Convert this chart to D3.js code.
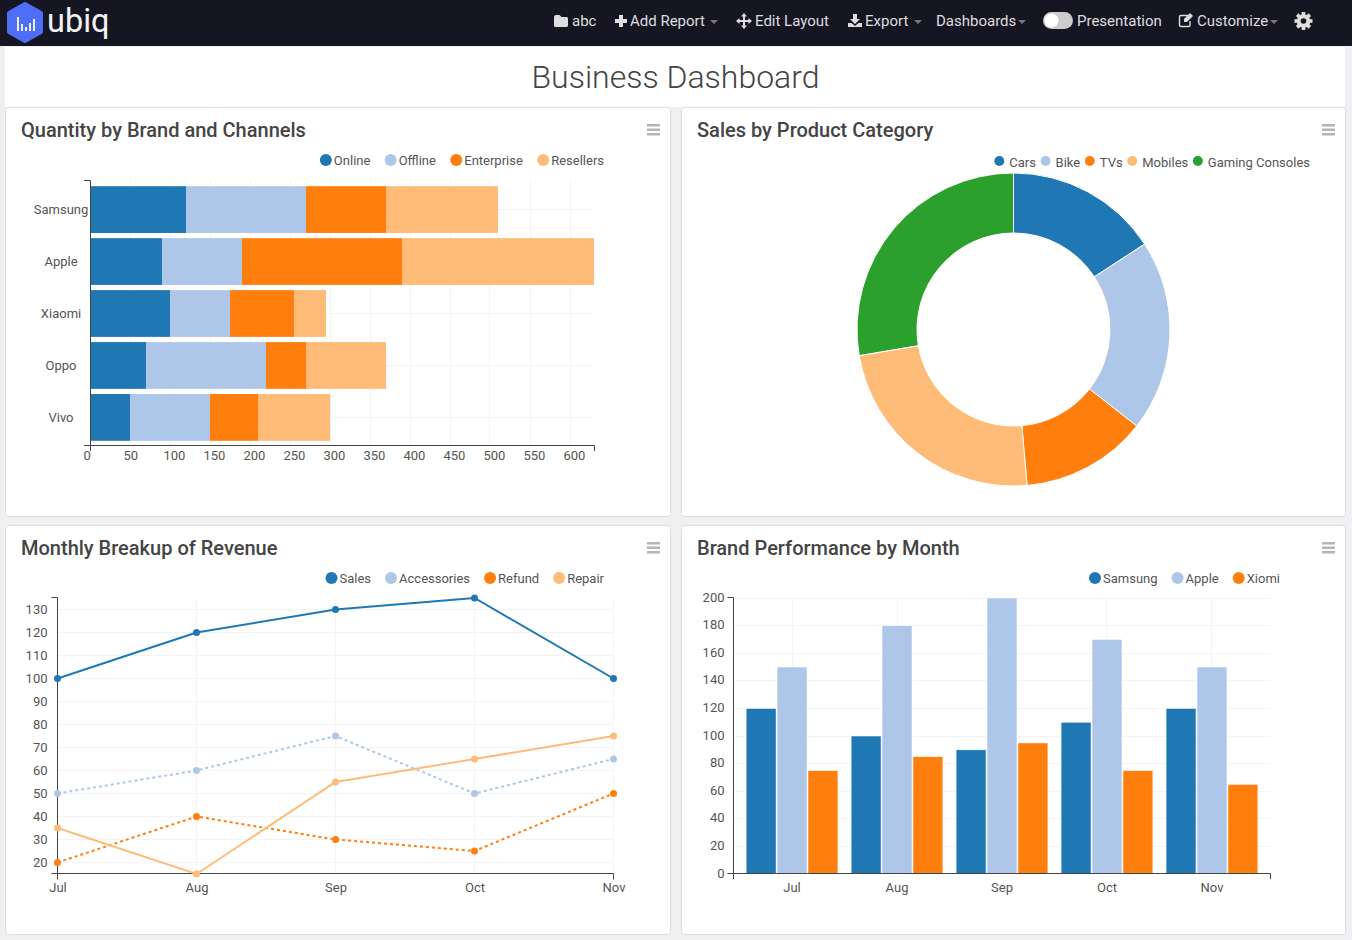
<!DOCTYPE html>
<html>
<head>
<meta charset="utf-8">
<script src="https://cdn.jsdelivr.net/npm/d3@7"></script>
<style>
  html, body { margin: 0; padding: 0; background: #f0f0f3; overflow: hidden; }
  svg { display: block; font-family: Roboto, sans-serif; }
  .axis path { stroke: #444; fill: none; }
  .axis line { display: none; }
  .axis text { font-family: Roboto, sans-serif; font-size: 13px; fill: #555; }
  .grid line { stroke: #f4f4f4; stroke-width: 1; }
  .nav-text { font-size: 15px; fill: #dedede; }
  .panel-title { font-size: 20px; font-weight: 500; fill: #444; }
  .legend text { font-size: 13px; fill: #555; }
</style>
</head>
<body>
<svg id="page" width="1352" height="940"></svg>
<script>
const colors = ['#1f77b4', '#aec7e8', '#ff7f0e', '#ffbb78', '#2ca02c']

// Quantity by Brand and Channels
const brands = ['Samsung', 'Apple', 'Xiaomi', 'Oppo', 'Vivo']
const channels = ['Online', 'Offline', 'Enterprise', 'Resellers']
const onlineQty = [120, 90, 100, 70, 50]
const offlineQty = [150, 100, 75, 150, 100]
const enterpriseQty = [100, 200, 80, 50, 60]
const resellerQty = [140, 240, 40, 100, 90]
const qtyTicks = [0, 50, 100, 150, 200, 250, 300, 350, 400, 450, 500, 550, 600]

// Sales by Product Category
const categories = ['Cars', 'Bike', 'TVs', 'Mobiles', 'Gaming Consoles']
const categorySales = [40, 50, 33, 60, 70]

// Monthly Breakup of Revenue
const months = ['Jul', 'Aug', 'Sep', 'Oct', 'Nov']
const revenueNames = ['Sales', 'Accessories', 'Refund', 'Repair']
const salesRev = [100, 120, 130, 135, 100]
const accessoriesRev = [50, 60, 75, 50, 65]
const refundRev = [20, 40, 30, 25, 50]
const repairRev = [35, 15, 55, 65, 75]
const revenueTicks = [20, 30, 40, 50, 60, 70, 80, 90, 100, 110, 120, 130]

// Brand Performance by Month
const perfBrands = ['Samsung', 'Apple', 'Xiomi']
const samsungPerf = [120, 100, 90, 110, 120]
const applePerf = [150, 180, 200, 170, 150]
const xiomiPerf = [75, 85, 95, 75, 65]
const perfTicks = [0, 20, 40, 60, 80, 100, 120, 140, 160, 180, 200]

const svg = d3.select('#page')

function drawPanel(x, y, w, h, title) {
  const g = svg.append('g')
  g.append('rect')
    .attr('x', x + 0.5).attr('y', y + 0.5)
    .attr('width', w).attr('height', h)
    .attr('rx', 3)
    .attr('fill', '#fff')
    .attr('stroke', '#dedede')
  g.append('text')
    .attr('class', 'panel-title')
    .attr('x', x + 16).attr('y', y + 30)
    .text(title)
  // menu icon
  ;[0, 4.5, 9].forEach(d => {
    g.append('rect')
      .attr('x', x + w - 23).attr('y', y + 17 + d)
      .attr('width', 13).attr('height', 2.5)
      .attr('fill', '#b5b5b5')
  })
}

// legend is laid out from the right edge, measuring each label
function drawLegend(names, right, y, opts) {
  const g = svg.append('g').attr('class', 'legend')
  let cursor = right
  for (let i = names.length - 1; i >= 0; i--) {
    const text = g.append('text')
      .attr('y', y + opts.textDy)
      .attr('dy', '0.35em')
      .text(names[i])
    const width = text.node().getComputedTextLength()
    text.attr('x', cursor - width)
    g.append('circle')
      .attr('cx', cursor - width - opts.dotGap)
      .attr('cy', y)
      .attr('r', opts.r)
      .attr('fill', colors[i])
    cursor -= width + opts.dotGap + opts.r + opts.gap
  }
}

function drawGrid(xValues, yValues, x0, x1, y0, y1) {
  const g = svg.append('g').attr('class', 'grid')
  g.selectAll('line.v').data(xValues).enter().append('line')
    .attr('class', 'v')
    .attr('x1', d => Math.floor(d) + 0.5).attr('x2', d => Math.floor(d) + 0.5)
    .attr('y1', y0).attr('y2', y1)
  g.selectAll('line.h').data(yValues).enter().append('line')
    .attr('class', 'h')
    .attr('x1', x0).attr('x2', x1)
    .attr('y1', d => Math.floor(d) + 0.5).attr('y2', d => Math.floor(d) + 0.5)
}

function drawNav() {
  svg.append('rect').attr('width', 1352).attr('height', 46).attr('fill', '#161623')
  svg.append('rect').attr('x', 5).attr('y', 47).attr('width', 1340).attr('height', 60).attr('fill', '#fff')
  svg.append('text')
    .attr('x', 675.5).attr('y', 88)
    .attr('text-anchor', 'middle')
    .attr('font-size', 32).attr('font-weight', 300).attr('fill', '#444')
    .text('Business Dashboard')

  // logo
  svg.append('path')
    .attr('d', 'M25,4 L41,13 V32 L25,41 L9,32 V13 Z')
    .attr('fill', '#4f6ef7').attr('stroke', '#4f6ef7')
    .attr('stroke-width', 4).attr('stroke-linejoin', 'round')
  ;[[17, 17], [21, 24], [25, 27], [29, 23], [33, 19]].forEach(([x, top]) => {
    svg.append('rect').attr('x', x).attr('y', top)
      .attr('width', 2).attr('height', 31 - top).attr('fill', '#eef1ff')
  })
  svg.append('text')
    .attr('x', 47).attr('y', 32)
    .attr('font-size', 32.5).attr('font-weight', 400)
    .attr('fill', '#f2f2f2')
    .text('ubiq')

  const navItems = [['abc', 572], ['Add Report', 630], ['Edit Layout', 755], ['Export', 865], ['Dashboards', 936], ['Presentation', 1077], ['Customize', 1197]]
  navItems.forEach(([label, x]) => {
    svg.append('text').attr('class', 'nav-text').attr('x', x).attr('y', 26).text(label)
  })

  const icon = '#dedede'
  const caret = x => svg.append('path').attr('d', `M${x},20 h8 l-4,4 z`).attr('fill', '#777')
  ;[710, 914, 1018, 1270].forEach(caret)
  // folder
  svg.append('path').attr('d', 'M554,17 q0,-2 2,-2 h3.5 l2,2 h5 q1.500,0 1.500,1.500 v7 q0,1.500 -1.500,1.500 h-11 q-1.500,0 -1.500,-1.500 z').attr('fill', icon)
  // plus
  svg.append('path').attr('d', 'M619,15 h4 v4 h4 v4 h-4 v4 h-4 v-4 h-4 v-4 h4 z').attr('fill', icon)
  // move arrows
  svg.append('path').attr('d', 'M744,13 l3,3.500 h-2 v3.500 h3.500 v-2 l3.500,3 l-3.500,3 v-2 h-3.500 v3.500 h2 l-3,3.500 l-3,-3.500 h2 v-3.500 h-3.500 v2 l-3.500,-3 l3.500,-3 v2 h3.500 v-3.500 h-2 z').attr('fill', icon)
  // download
  svg.append('path').attr('d', 'M853,14 h4 v5 h3 l-5,5 l-5,-5 h3 z M848,23 h3.500 l3.500,3 l3.500,-3 h3.500 v4 h-14 z').attr('fill', icon)
  // edit
  svg.append('path').attr('d', 'M1190,21 v4 q0,1.500 -1.500,1.500 h-7.500 q-1.500,0 -1.500,-1.500 v-8 q0,-1.500 1.500,-1.500 h7').attr('fill', 'none').attr('stroke', icon).attr('stroke-width', 1.4)
  svg.append('path').attr('d', 'M1184,19 l6,-6 l3,3 l-6,6 h-3 z').attr('fill', icon)
  // toggle
  svg.append('rect').attr('x', 1043).attr('y', 12).attr('width', 30).attr('height', 17).attr('rx', 8.5).attr('fill', '#ccc')
  svg.append('circle').attr('cx', 1051.5).attr('cy', 20.5).attr('r', 7).attr('fill', '#fff')
  // gear
  const gear = svg.append('g').attr('transform', 'translate(1303.5,21)')
  d3.range(4).forEach(i => {
    gear.append('rect').attr('x', -1.8).attr('y', -9).attr('width', 3.6).attr('height', 18)
      .attr('fill', icon).attr('transform', `rotate(${i * 45})`)
  })
  gear.append('circle').attr('r', 6.8).attr('fill', icon)
  gear.append('circle').attr('r', 2.8).attr('fill', '#161623')
}

function drawBrandChannels() {
  drawPanel(5, 107, 665, 409, 'Quantity by Brand and Channels')
  drawLegend(channels, 604, 160, { r: 6, dotGap: 8, gap: 14.3, textDy: 0 })

  const x = d3.scaleLinear().domain([0, 630]).range([90, 594])
  const y = d3.scaleBand().domain(brands).range([181, 446]).padding(0.1)
  drawGrid(qtyTicks.map(x), brands.map(d => y(d) + y.bandwidth() / 2), 90, 594, 180, 445)

  const rows = brands.map((b, i) => ({ brand: b, Online: onlineQty[i], Offline: offlineQty[i], Enterprise: enterpriseQty[i], Resellers: resellerQty[i] }))
  const stacked = d3.stack().keys(channels)(rows)
  svg.append('g').selectAll('g').data(stacked).enter().append('g')
    .attr('fill', (d, i) => colors[i])
    .selectAll('rect').data(d => d).enter().append('rect')
    .attr('x', d => x(d[0]))
    .attr('width', d => x(d[1]) - x(d[0]))
    .attr('y', d => y(d.data.brand))
    .attr('height', y.bandwidth())

  const xAxis = svg.append('g').attr('class', 'axis')
    .attr('transform', 'translate(0,445)')
    .call(d3.axisBottom(x).tickValues(qtyTicks).tickSizeInner(0).tickSizeOuter(6).tickPadding(6))
  xAxis.selectAll('text').attr('text-anchor', 'start').attr('dx', -7)
  const yAxis = svg.append('g').attr('class', 'axis')
    .attr('transform', 'translate(90,-1)')
    .call(d3.axisLeft(y).tickSizeInner(0).tickSizeOuter(6))
  yAxis.selectAll('text').attr('text-anchor', 'middle').attr('x', -29).attr('dy', '0.4em')
}

function drawCategoryDonut() {
  drawPanel(681, 107, 664, 409, 'Sales by Product Category')
  drawLegend(categories, 1310, 161, { r: 5, dotGap: 10, gap: 4.6, textDy: 1.5 })

  const pie = d3.pie().sort(null)(categorySales)
  const arc = d3.arc().innerRadius(96.5).outerRadius(156.5)
  svg.append('g')
    .attr('transform', 'translate(1013.5,329.5)')
    .selectAll('path').data(pie).enter().append('path')
    .attr('d', arc)
    .attr('fill', (d, i) => colors[i])
    .attr('stroke', '#fff')
    .attr('stroke-width', 1)
}

function drawRevenueLines() {
  drawPanel(5, 525, 665, 409, 'Monthly Breakup of Revenue')
  drawLegend(revenueNames, 604, 578, { r: 6, dotGap: 8, gap: 14, textDy: 0 })

  const x = d3.scalePoint().domain(months).range([57.5, 613.5])
  const y = d3.scaleLinear().domain([15, 135]).range([874, 598])
  drawGrid(months.map(x), revenueTicks.map(y), 58, 614, 598, 873)

  const xAxis = svg.append('g').attr('class', 'axis')
    .attr('transform', 'translate(0,873.5)')
    .call(d3.axisBottom(x).offset(0).tickSizeInner(0).tickSizeOuter(6).tickPadding(9))
  xAxis.selectAll('text').attr('dx', 0.5)
  const yAxis = svg.append('g').attr('class', 'axis')
    .attr('transform', 'translate(57.5,-0.5)')
    .call(d3.axisLeft(y).offset(0).tickValues(revenueTicks).tickSizeInner(0).tickSizeOuter(6).tickPadding(10))
  yAxis.selectAll('text').attr('dy', '0.4em')

  const line = d3.line().x((d, i) => x(months[i])).y(d => y(d))
  const revenueSeries = [salesRev, accessoriesRev, refundRev, repairRev]
  const dashes = [null, '3,3', '3,3', null]
  revenueSeries.forEach((values, s) => {
    const g = svg.append('g')
    g.append('path')
      .attr('d', line(values))
      .attr('fill', 'none')
      .attr('stroke', colors[s])
      .attr('stroke-width', 2)
      .attr('stroke-dasharray', dashes[s])
    g.selectAll('circle').data(values).enter().append('circle')
      .attr('cx', (d, i) => x(months[i]))
      .attr('cy', d => y(d))
      .attr('r', 3.5)
      .attr('fill', colors[s])
  })
}

function drawBrandPerformance() {
  drawPanel(681, 525, 664, 409, 'Brand Performance by Month')
  drawLegend(perfBrands, 1280, 578, { r: 6, dotGap: 8, gap: 14, textDy: 0 })

  const x0 = d3.scaleBand().domain(months).range([733, 1270])
    .paddingInner(0.125).paddingOuter(0.12).align(0.52)
  const x1 = d3.scaleBand().domain(perfBrands).range([0, x0.bandwidth()]).paddingInner(0.03)
  const y = d3.scaleLinear().domain([0, 200]).range([874, 598])
  drawGrid(months.map(m => x0(m) + x0.bandwidth() / 2), perfTicks.slice(1).map(y), 734, 1270, 598, 873)

  const perfSeries = [samsungPerf, applePerf, xiomiPerf]
  perfSeries.forEach((values, s) => {
    svg.append('g').selectAll('rect').data(values).enter().append('rect')
      .attr('x', (d, i) => x0(months[i]) + x1(perfBrands[s]))
      .attr('width', x1.bandwidth())
      .attr('y', d => y(d))
      .attr('height', d => y(0) - y(d) - 0.5)
      .attr('fill', colors[s])
      .attr('stroke', '#fff')
      .attr('stroke-width', 0.6)
  })

  svg.append('g').attr('class', 'axis')
    .attr('transform', 'translate(0,873)')
    .call(d3.axisBottom(x0).tickSizeInner(0).tickSizeOuter(6).tickPadding(10))
  const yAxis = svg.append('g').attr('class', 'axis')
    .attr('transform', 'translate(733.5,-0.5)')
    .call(d3.axisLeft(y).offset(0).tickValues(perfTicks).tickSizeInner(0).tickSizeOuter(6).tickPadding(9))
  yAxis.selectAll('text').attr('dy', '0.32em')
}

drawNav()
drawBrandChannels()
drawCategoryDonut()
drawRevenueLines()
drawBrandPerformance()
</script>
</body>
</html>
